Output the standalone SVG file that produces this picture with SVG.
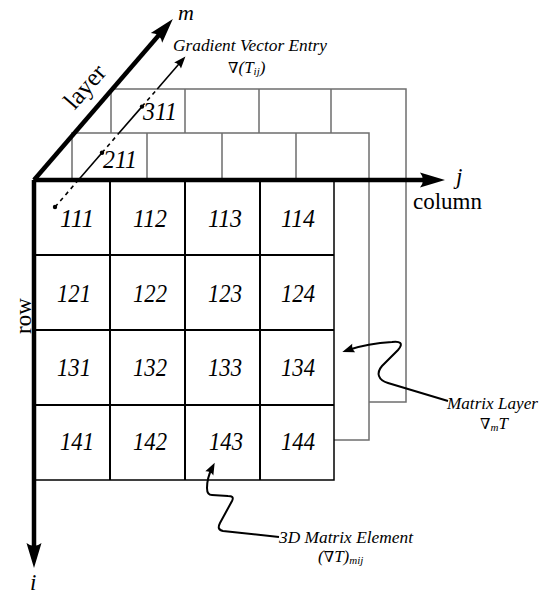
<svg xmlns="http://www.w3.org/2000/svg" width="540" height="598" viewBox="0 0 540 598">
<style>
.bg{fill:#fff}
.lay{fill:#fff;stroke:#6e6e6e;stroke-width:1.5}
.gl{stroke:#6e6e6e;stroke-width:1.5;fill:none}
.fr{fill:#fff;stroke:#000;stroke-width:1.5}
.fl{stroke:#000;stroke-width:2;fill:none}
.ax{stroke:#000;stroke-width:4.5;fill:none}
.thin{stroke:#000;stroke-width:1.6;fill:none}
.dash{stroke:#000;stroke-width:1.6;fill:none;stroke-dasharray:4 4}
.curve{stroke:#000;stroke-width:2;fill:none}
.num{font-family:"Liberation Serif","Times New Roman",serif;font-style:italic;font-size:26px;text-anchor:middle}
.lbl{font-family:"Liberation Serif","Times New Roman",serif;font-style:italic;font-size:17px}
.up{font-family:"Liberation Serif","Times New Roman",serif;font-size:23px}
.var{font-family:"Liberation Serif","Times New Roman",serif;font-style:italic;font-size:23px}
.sub{font-size:11px}
.nab{font-style:normal;font-family:"DejaVu Serif","Liberation Serif",serif;font-size:15px}
</style>
<defs>
<marker id="big" viewBox="-14 -9 28 18" refX="0" refY="0" markerWidth="28" markerHeight="18" markerUnits="userSpaceOnUse" orient="auto">
<path d="M12,0 L-13,-7.5 Q-7,0 -13,7.5 Z" fill="#000"/>
</marker>
<marker id="sm" viewBox="-8 -6 16 12" refX="0" refY="0" markerWidth="16" markerHeight="12" markerUnits="userSpaceOnUse" orient="auto">
<path d="M6,0 L-6,-4.5 Q-3.5,0 -6,4.5 Z" fill="#000"/>
</marker>
</defs>
<rect class="bg" x="0" y="0" width="540" height="598"/>

<g id="layer3">
<rect class="lay" x="111" y="89" width="295" height="313"/>
<path class="gl" d="M185,89V133M259,89V133M331,89V133"/>
</g>
<g id="layer2">
<rect class="lay" x="72" y="133" width="297" height="307"/>
<path class="gl" d="M147,133V180M222,133V180M296,133V180"/>
</g>
<g id="front">
<rect class="fr" x="34" y="180" width="300" height="300"/>
<path class="fl" d="M110,180V480M185,180V480M260,180V480M34,255H334M34,330H334M34,405H334"/>
</g>

<g id="cells">
<text class="num" x="77" y="227" textLength="34" lengthAdjust="spacingAndGlyphs">111</text>
<text class="num" x="150" y="227" textLength="34" lengthAdjust="spacingAndGlyphs">112</text>
<text class="num" x="225" y="227" textLength="34" lengthAdjust="spacingAndGlyphs">113</text>
<text class="num" x="298" y="227" textLength="34" lengthAdjust="spacingAndGlyphs">114</text>
<text class="num" x="74" y="302" textLength="34" lengthAdjust="spacingAndGlyphs">121</text>
<text class="num" x="150" y="302" textLength="34" lengthAdjust="spacingAndGlyphs">122</text>
<text class="num" x="225" y="302" textLength="34" lengthAdjust="spacingAndGlyphs">123</text>
<text class="num" x="298" y="302" textLength="34" lengthAdjust="spacingAndGlyphs">124</text>
<text class="num" x="74" y="376" textLength="34" lengthAdjust="spacingAndGlyphs">131</text>
<text class="num" x="150" y="376" textLength="34" lengthAdjust="spacingAndGlyphs">132</text>
<text class="num" x="225" y="376" textLength="34" lengthAdjust="spacingAndGlyphs">133</text>
<text class="num" x="298" y="376" textLength="34" lengthAdjust="spacingAndGlyphs">134</text>
<text class="num" x="77" y="450" textLength="34" lengthAdjust="spacingAndGlyphs">141</text>
<text class="num" x="150" y="450" textLength="34" lengthAdjust="spacingAndGlyphs">142</text>
<text class="num" x="226" y="450" textLength="34" lengthAdjust="spacingAndGlyphs">143</text>
<text class="num" x="298" y="450" textLength="34" lengthAdjust="spacingAndGlyphs">144</text>
<text class="num" x="120" y="168" textLength="34" lengthAdjust="spacingAndGlyphs">211</text>
<text class="num" x="160" y="120" textLength="34" lengthAdjust="spacingAndGlyphs">311</text>
</g>

<g id="connectors">
<line class="ax" x1="34" y1="180" x2="433" y2="180" marker-end="url(#big)"/>
<line class="ax" x1="34" y1="180" x2="34" y2="556" marker-end="url(#big)"/>
<line class="ax" x1="34" y1="180" x2="165" y2="28" marker-end="url(#big)"/>
<line class="dash" x1="55" y1="207" x2="78.4" y2="180"/>
<line class="thin" x1="78.4" y1="180" x2="102" y2="152.8"/>
<line class="dash" x1="102" y1="152.8" x2="119" y2="133"/>
<line class="thin" x1="119" y1="133" x2="142" y2="106.6"/>
<line class="dash" x1="142" y1="106.6" x2="157.3" y2="89"/>
<line class="thin" x1="157.3" y1="89" x2="181.5" y2="61" marker-end="url(#sm)"/>
<circle cx="55" cy="207" r="2.2"/>
<circle cx="102" cy="152.8" r="2.2"/>
<circle cx="142" cy="106.6" r="2.2"/>
<path class="curve" d="M448,401 L388,383 C378,380 376,373 382,366 L398,350 C404,343 400,341 392,342 C375,343 360,346 348,350" marker-end="url(#sm)"/>
<path class="curve" d="M279,537 L223,531 C218,530 218,527 220,523 L232,501 C234,497 232,496 228,496 L212,495 C208,495 207,492 207,488 C207,480 209,474 212,468" marker-end="url(#sm)"/>
</g>

<g id="labels">
<text class="var" x="456" y="184">j</text>
<text class="up" x="413" y="209">column</text>
<text class="var" x="178" y="20" style="font-size:22px">m</text>
<text class="var" x="30" y="590">i</text>
<text class="up" transform="translate(31,316) rotate(-90)" text-anchor="middle">row</text>
<text class="up" transform="translate(91,92) rotate(-49)" text-anchor="middle" style="font-size:25px">layer</text>
<text class="lbl" x="173" y="51" textLength="154" lengthAdjust="spacingAndGlyphs">Gradient Vector Entry</text>
<text class="lbl" x="228" y="73"><tspan class="nab">∇</tspan>(T<tspan class="sub" dy="2">ij</tspan><tspan dy="-2">)</tspan></text>
<text class="lbl" x="447" y="409" textLength="91" lengthAdjust="spacingAndGlyphs">Matrix Layer</text>
<text class="lbl" x="480" y="429"><tspan class="nab">∇</tspan><tspan class="sub" dy="2">m</tspan><tspan dy="-2">T</tspan></text>
<text class="lbl" x="279" y="543" textLength="134" lengthAdjust="spacingAndGlyphs">3D Matrix Element</text>
<text class="lbl" x="318" y="562">(<tspan class="nab">∇</tspan>T)<tspan class="sub" dy="2">mij</tspan></text>
</g>
</svg>
